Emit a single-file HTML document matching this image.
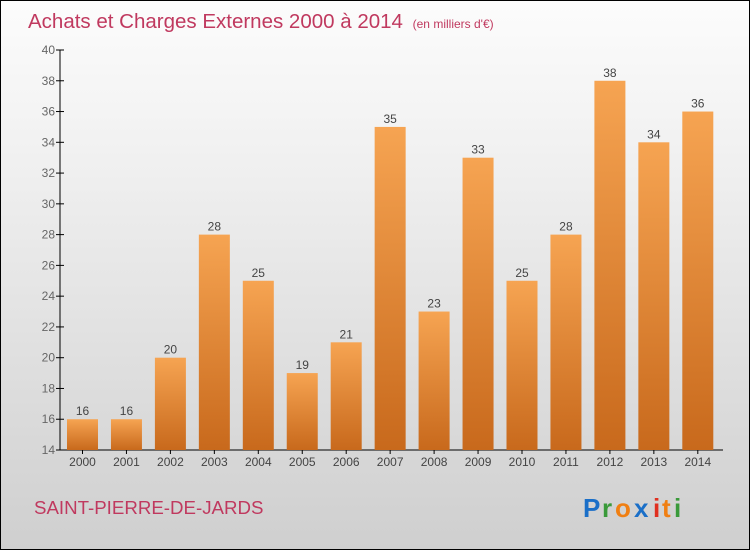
<!DOCTYPE html>
<html><head><meta charset="utf-8"><style>
body{margin:0}
#c{width:750px;height:550px;position:relative;box-sizing:border-box;border:1px solid #000;background:linear-gradient(#fcfcfc,#f2f2f2 25%,#cfcfcf);font-family:"Liberation Sans",sans-serif;overflow:hidden}
</style></head><body>
<div id="c">
<svg width="748" height="548" id="s">
<defs><linearGradient id="g" x1="0" y1="0" x2="0" y2="1"><stop offset="0" stop-color="#f6a452"/><stop offset="1" stop-color="#c8691c"/></linearGradient></defs>
<text x="27" y="27" font-size="20.5" fill="#c0395f">Achats et Charges Externes 2000 à 2014 <tspan font-size="12" dx="4">(en milliers d'€)</tspan></text>
<text x="33" y="513" font-size="18.7" fill="#c0395f">SAINT-PIERRE-DE-JARDS</text>
<g font-size="26" font-weight="bold"><text x="582" y="516" fill="#1a6fc8">P</text><text x="601" y="516" fill="#3a9a3a">r</text><text x="614" y="516" fill="#f07f12">o</text><text x="633" y="516" fill="#1a6fc8">x</text><text x="652" y="516" fill="#e03020">i</text><text x="661" y="516" fill="#f07f12">t</text><text x="673" y="516" fill="#3a9a3a">i</text></g>
<g id="ax"></g><g id="bars"></g>
</svg></div>
<script>
const years=["2000","2001","2002","2003","2004","2005","2006","2007","2008","2009","2010","2011","2012","2013","2014"];
const values=[16,16,20,28,25,19,21,35,23,33,25,28,38,34,36];
const yTicks=[14,16,18,20,22,24,26,28,30,32,34,36,38,40];
const NS="http://www.w3.org/2000/svg";
const y=v=>449-(v-14)*400/26;
const x=i=>81.5+i*43.95;
function mk(t,a,p,txt){const e=document.createElementNS(NS,t);for(const k in a)e.setAttribute(k,a[k]);if(txt!=null)e.textContent=txt;p.appendChild(e);return e;}
const ax=document.getElementById('ax'),bg=document.getElementById('bars');
let l=mk('line',{x1:59,y1:49,x2:59,y2:449,stroke:'#000'},ax);


l=mk('line',{x1:59,y1:449,x2:722,y2:449,stroke:'#000'},ax);


yTicks.forEach(v=>{
 const t=mk('text',{x:54,y:y(v)+4,'font-size':12,fill:'#666','text-anchor':'end'},ax,v);
 
 
 mk('line',{x1:55,x2:63,y1:y(v),y2:y(v),stroke:'#000'},ax);
});
years.forEach((yr,i)=>{
 const t=mk('text',{x:x(i),y:465,'font-size':12,fill:'#444','text-anchor':'middle'},ax,yr);
 
 
 mk('line',{x1:x(i),x2:x(i),y1:449,y2:453,stroke:'#000'},ax);
 const v=values[i];
 const r=mk('rect',{x:x(i)-15.5,y:y(v),width:31,height:449-y(v),fill:'url(#g)'},bg);
 
 
 const lb=mk('text',{x:x(i),y:y(v)-4,'font-size':12,fill:'#444','text-anchor':'middle'},bg,v);
 
 
});
</script>
</body></html>
